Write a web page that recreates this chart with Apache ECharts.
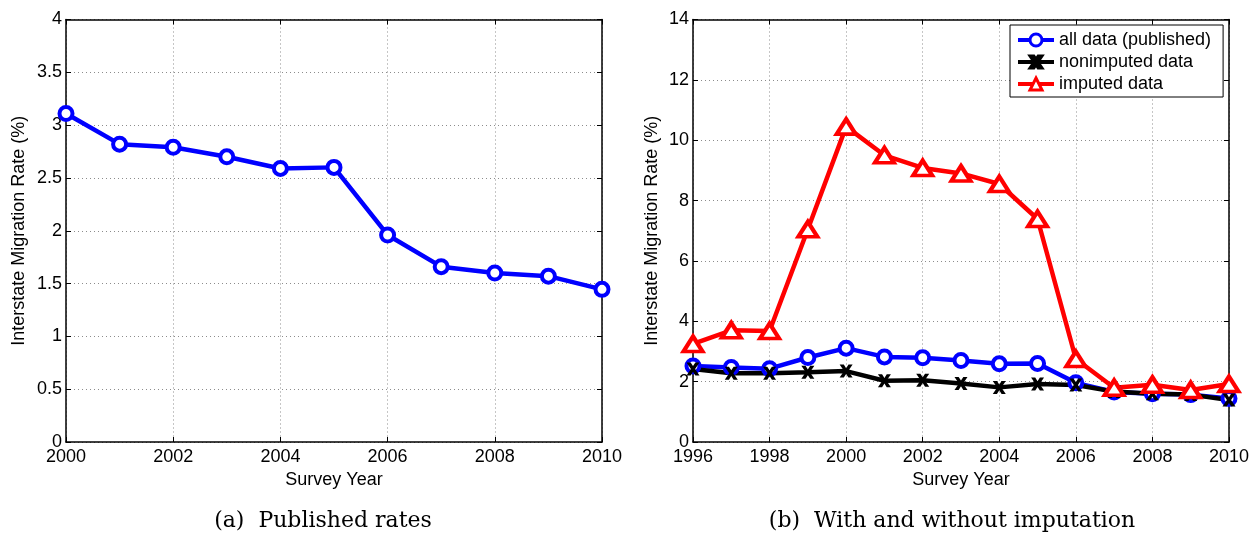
<!DOCTYPE html>
<html>
<head>
<meta charset="utf-8">
<script src="https://cdn.jsdelivr.net/npm/echarts@6/dist/echarts.min.js"></script>
<style>
  html, body { margin: 0; padding: 0; background: #fff; }
  #main { width: 1252px; height: 533px; }
</style>
</head>
<body>
<div id="main"></div>
<script>
// panel (a): published rates
var yearsA = [2000, 2001, 2002, 2003, 2004, 2005, 2006, 2007, 2008, 2009, 2010];
var publishedA = [3.11, 2.82, 2.79, 2.70, 2.59, 2.60, 1.96, 1.66, 1.60, 1.57, 1.445];

// panel (b): with and without imputation
var yearsB = [1996, 1997, 1998, 1999, 2000, 2001, 2002, 2003, 2004, 2005, 2006, 2007, 2008, 2009, 2010];
var allData = [2.52, 2.47, 2.43, 2.80, 3.11, 2.82, 2.79, 2.70, 2.59, 2.60, 1.96, 1.66, 1.60, 1.57, 1.445];
var nonImputed = [2.42, 2.28, 2.28, 2.31, 2.35, 2.03, 2.05, 1.94, 1.81, 1.92, 1.89, 1.67, 1.60, 1.57, 1.39];
var imputed = [3.25, 3.70, 3.68, 7.05, 10.45, 9.50, 9.08, 8.90, 8.55, 7.39, 2.75, 1.80, 1.90, 1.72, 1.92];

var seriesNames = ["all data (published)", "nonimputed data", "imputed data"];
var captions = ["(a)  Published rates", "(b)  With and without imputation"];
var yName = "Interstate Migration Rate (%)";
var xName = "Survey Year";

function pairs(xs, ys) {
  return xs.map(function (x, i) { return [x, ys[i]]; });
}

var font = "Liberation Sans, Arial, sans-serif";
var gridLine = { show: true, lineStyle: { color: "#8c8c8c", type: [1, 3], width: 1 } };
// thick "x" marker like matlab's
var xMark = "path://M0,0 L3.2,0 L5,2.8 L6.8,0 L10,0 L6.6,5 L10,10 L6.8,10 L5,7.2 L3.2,10 L0,10 L3.4,5 Z";
var axisLineStyle = { show: true, onZero: false, lineStyle: { color: "#000", width: 1.5 } };
var tickStyle = { show: true, inside: true, length: 5, lineStyle: { color: "#000" } };

function mainX(idx, min) {
  return {
    gridIndex: idx, type: "value", min: min, max: 2010, interval: 2,
    name: xName, nameLocation: "middle", nameGap: 25,
    nameTextStyle: { color: "#000", fontSize: 18, fontFamily: font },
    axisLine: axisLineStyle,
    axisTick: tickStyle,
    axisLabel: { color: "#000", fontSize: 18, fontFamily: font, margin: 6,
      formatter: function (v) { return String(v); } },
    splitLine: gridLine
  };
}
function topX(idx, min) {
  return {
    gridIndex: idx, type: "value", min: min, max: 2010, interval: 2, position: "top",
    axisLine: axisLineStyle, axisTick: tickStyle,
    axisLabel: { show: false }, splitLine: { show: false }
  };
}
function mainY(idx, max, interval, gap) {
  return {
    gridIndex: idx, type: "value", min: 0, max: max, interval: interval,
    name: yName, nameLocation: "middle", nameGap: gap, nameRotate: 90,
    nameTextStyle: { color: "#000", fontSize: 18, fontFamily: font },
    axisLine: axisLineStyle,
    axisTick: tickStyle,
    axisLabel: { color: "#000", fontSize: 18, fontFamily: font, margin: 4 },
    splitLine: gridLine
  };
}
function rightY(idx, max, interval) {
  return {
    gridIndex: idx, type: "value", min: 0, max: max, interval: interval, position: "right",
    axisLine: axisLineStyle, axisTick: tickStyle,
    axisLabel: { show: false }, splitLine: { show: false }
  };
}

function circleSeries(name, xi, yi, data) {
  return {
    name: name, type: "line", xAxisIndex: xi, yAxisIndex: yi, data: data,
    symbol: "circle", symbolSize: 13, showAllSymbol: true,
    lineStyle: { color: "#0000ff", width: 4.5 },
    itemStyle: { color: "#fff", borderColor: "#0000ff", borderWidth: 4 }
  };
}

var chart = echarts.init(document.getElementById("main"));
var option = {
  animation: false,
  backgroundColor: "#fff",
  title: [
    { text: captions[0], left: 318, top: 505, textAlign: "center",
      textStyle: { fontFamily: "DejaVu Serif, serif", fontWeight: "normal", fontSize: 22, color: "#000" } },
    { text: captions[1], left: 947, top: 505, textAlign: "center",
      textStyle: { fontFamily: "DejaVu Serif, serif", fontWeight: "normal", fontSize: 22, color: "#000" } }
  ],
  legend: {
    data: seriesNames,
    orient: "vertical",
    left: 1010, top: 25,
    itemWidth: 36, itemHeight: 15, itemGap: 4,
    padding: [6, 12, 4, 6],
    backgroundColor: "#fff",
    borderColor: "#000", borderWidth: 1,
    lineStyle: { width: 4 },
    itemStyle: { borderWidth: 3 },
    textStyle: { color: "#000", fontSize: 18, fontFamily: font }
  },
  grid: [
    { left: 66, top: 19.5, width: 536, height: 422.5 },
    { left: 693, top: 19.5, width: 536, height: 422.5 }
  ],
  xAxis: [mainX(0, 2000), topX(0, 2000), mainX(1, 1996), topX(1, 1996)],
  yAxis: [mainY(0, 4, 0.5, 38), rightY(0, 4, 0.5), mainY(1, 14, 2, 32), rightY(1, 14, 2)],
  series: [
    circleSeries("published", 0, 0, pairs(yearsA, publishedA)),
    circleSeries(seriesNames[0], 2, 2, pairs(yearsB, allData)),
    {
      name: seriesNames[1], type: "line", xAxisIndex: 2, yAxisIndex: 2,
      data: pairs(yearsB, nonImputed),
      symbol: xMark, symbolSize: 13, showAllSymbol: true,
      lineStyle: { color: "#000", width: 4.5 },
      itemStyle: { color: "#000", borderColor: "#000", borderWidth: 0 }
    },
    {
      name: seriesNames[2], type: "line", xAxisIndex: 2, yAxisIndex: 2,
      data: pairs(yearsB, imputed),
      symbol: "triangle", symbolSize: [19, 15], showAllSymbol: true,
      lineStyle: { color: "#ff0000", width: 4.5 },
      itemStyle: { color: "#fff", borderColor: "#ff0000", borderWidth: 4 }
    }
  ]
};
chart.setOption(option);
</script>
</body>
</html>
